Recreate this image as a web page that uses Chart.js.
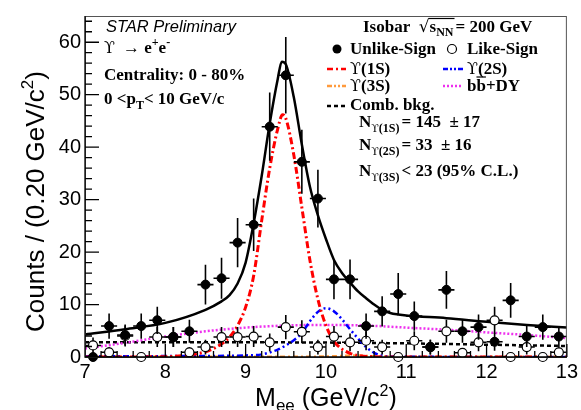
<!DOCTYPE html>
<html>
<head>
<meta charset="utf-8">
<script src="https://cdn.jsdelivr.net/npm/chart.js@4.4.1/dist/chart.umd.min.js"></script>
<style>
  body { margin: 0; background: #fff; }
  #wrap { width: 581px; height: 410px; }
</style>
</head>
<body>
<div id="wrap"><canvas id="myChart"></canvas></div>
<script>
// bin centres (0.2 GeV bins) and counts
let mass = [7.1, 7.3, 7.5, 7.7, 7.9, 8.1, 8.3, 8.5, 8.7, 8.9, 9.1, 9.3, 9.5, 9.7, 9.9,
            10.1, 10.3, 10.5, 10.7, 10.9, 11.1, 11.3, 11.5, 11.7, 11.9, 12.1, 12.3, 12.5, 12.7, 12.9];
let unlike = [0, 5.9, 4.2, 5.9, 7.0, 3.8, 4.9, 13.8, 15.0, 21.8, 25.2, 43.9, 53.7, 37.2, 30.2,
              14.8, 14.8, 5.9, 8.7, 12.0, 7.8, 1.9, 12.8, 4.9, 5.7, 2.9, 10.8, 3.9, 5.7, 3.9];
let unlikeErr = [0, 2.4, 2.0, 2.4, 2.6, 1.9, 2.2, 3.8, 3.9, 4.7, 5.0, 6.5, 7.3, 6.1, 5.5,
                 3.8, 3.8, 2.4, 2.9, 4.0, 2.8, 1.4, 3.6, 2.2, 2.4, 1.7, 3.3, 2.0, 2.4, 2.0];
let like = [2.2, 0.9, 4.0, 0, 3.8, 3.8, 0.9, 1.9, 3.8, 3.8, 3.9, 2.8, 5.7, 4.8, 1.9,
            3.9, 2.8, 3.1, 1.9, 0, 3.1, 1.9, 4.9, 0.8, 2.8, 7.0, 0, 1.9, 0, 0.9];
let likeErr = [1.5, 1.0, 2.0, 0, 1.9, 1.9, 1.0, 1.4, 1.9, 1.9, 2.0, 1.7, 2.3, 2.2, 1.4,
               2.0, 1.7, 1.8, 1.4, 0, 1.8, 1.4, 2.2, 0.9, 1.7, 2.6, 0, 1.4, 0, 1.0];
let binHalf = 0.1;

// fit curves
let fitM = [7.0, 7.5, 8.0, 8.5, 8.7, 8.8, 8.9, 9.0, 9.1, 9.2, 9.3, 9.4, 9.45, 9.5, 9.6, 9.7, 9.8, 9.9,
            10.0, 10.1, 10.2, 10.3, 10.4, 10.5, 10.6, 10.7, 10.8, 10.9, 11.0, 11.5, 12.0, 12.5, 13.0];
let fitY = [4.3, 5.3, 6.5, 9.0, 10.6, 11.8, 14.0, 18.0, 25.5, 34.5, 44.5, 53.0, 56.3, 55.8, 49.5, 40.5, 32.5, 27.0,
            22.5, 18.5, 16.0, 14.2, 12.5, 11.2, 10.0, 9.0, 8.4, 8.1, 7.9, 7.4, 6.7, 6.1, 5.6];
let y1sM = [7.0, 8.0, 8.3, 8.5, 8.6, 8.7, 8.8, 8.9, 9.0, 9.1, 9.2, 9.3, 9.4, 9.46, 9.5, 9.6, 9.7, 9.8, 9.9,
            10.0, 10.1, 10.2, 10.3, 10.4, 10.6, 11.0, 13.0];
let y1sY = [0, 0.05, 0.4, 1.0, 1.6, 2.5, 3.8, 6.0, 9.5, 15.5, 26.0, 36.0, 43.5, 46.2, 45.5, 38.5, 28.5, 18.5, 11.0,
            6.0, 3.0, 1.5, 0.7, 0.3, 0.05, 0, 0];
let y2sM = [7.0, 8.5, 9.0, 9.2, 9.4, 9.5, 9.6, 9.7, 9.8, 9.9, 10.0, 10.1, 10.2, 10.3, 10.4, 10.5, 10.6, 10.7, 10.9, 13.0];
let y2sY = [0.15, 0.2, 0.3, 0.5, 1.4, 2.2, 3.2, 4.6, 6.8, 8.6, 9.3, 8.7, 7.2, 5.3, 3.5, 1.9, 0.8, 0.25, 0.05, 0];
let y3sM = [7.0, 9.5, 10.0, 10.2, 10.35, 10.5, 10.7, 11.0, 13.0];
let y3sY = [0.05, 0.05, 0.1, 0.2, 0.3, 0.2, 0.1, 0.05, 0.05];
let bbM = [7.0, 7.5, 8.0, 8.5, 9.0, 9.5, 10.0, 10.5, 11.0, 11.5, 12.0, 12.5, 13.0];
let bbY = [1.6, 2.7, 3.9, 4.9, 5.6, 6.0, 6.1, 6.0, 5.6, 5.2, 4.7, 4.2, 3.6];
let combM = [7.0, 8.0, 9.0, 10.0, 11.0, 12.0, 13.0];
let combY = [2.8, 2.8, 2.8, 2.75, 2.6, 2.35, 2.1];

function pts(xs, ys) { return xs.map((x, i) => ({ x: x, y: ys[i] })) }

const SANS = '"Liberation Sans", Arial, sans-serif';
const B = 'bold 17px "Liberation Serif", "DejaVu Serif", serif';
const Bs = 'bold 12px "Liberation Serif", "DejaVu Serif", serif';
const U = '16px "DejaVu Serif", serif';      // upsilon glyph
const Us = '11px "DejaVu Serif", serif';

const RED = '#ff0000', BLUE = '#0000ff', ORANGE = '#ff9a3c', MAG = '#ee30ee';

function curve(label, xs, ys, color, dash, width, order) {
    return {
        label: label, data: pts(xs, ys), showLine: true, pointRadius: 0,
        borderColor: color, borderWidth: width, borderDash: dash,
        cubicInterpolationMode: 'monotone', order: order
    };
}

// draw text pieces one after the other (for sub/superscripts)
function run(ctx, x, y, parts) {
    parts.forEach(p => {
        ctx.font = p.f;
        ctx.fillText(p.t, x, y + (p.dy || 0));
        x += ctx.measureText(p.t).width + (p.gap || 0);
    });
    return x;
}

function sample(ctx, x0, x1, y, color, dash, w) {
    ctx.save();
    ctx.strokeStyle = color; ctx.lineWidth = w; ctx.setLineDash(dash);
    ctx.beginPath(); ctx.moveTo(x0, y); ctx.lineTo(x1, y); ctx.stroke();
    ctx.restore();
}

const ink = {
    id: 'ink',
    beforeDatasetDraw(chart, args) {
        const ds = chart.data.datasets[args.index];
        if (!ds.errs) return;
        const ctx = chart.ctx, xs = chart.scales.x, ys = chart.scales.y;
        ctx.save();
        ctx.strokeStyle = '#000'; ctx.lineWidth = 1.6;
        ds.data.forEach((p, i) => {
            const e = ds.errs[i];
            const px = xs.getPixelForValue(p.x), py = ys.getPixelForValue(p.y);
            ctx.beginPath();
            ctx.moveTo(xs.getPixelForValue(p.x - binHalf), py);
            ctx.lineTo(xs.getPixelForValue(p.x + binHalf), py);
            if (e > 0) {
                ctx.moveTo(px, ys.getPixelForValue(p.y - e));
                ctx.lineTo(px, ys.getPixelForValue(p.y + e));
            }
            ctx.stroke();
        });
        ctx.restore();
    },
    afterDraw(chart) {
        const ctx = chart.ctx, a = chart.chartArea, xs = chart.scales.x, ys = chart.scales.y;
        ctx.save();
        // frame
        ctx.strokeStyle = '#555'; ctx.lineWidth = 1;
        ctx.strokeRect(a.left + 0.5, a.top + 0.5, a.right - a.left - 1, a.bottom - a.top);
        ctx.strokeStyle = '#000'; ctx.lineWidth = 1.3;
        ctx.beginPath();
        ctx.moveTo(a.left, a.top); ctx.lineTo(a.left, a.bottom); ctx.lineTo(a.right, a.bottom);
        // inward ticks
        for (let k = 0; k <= 30; k++) {
            const px = xs.getPixelForValue(7 + k * 0.2);
            ctx.moveTo(px, a.bottom); ctx.lineTo(px, a.bottom - (k % 5 === 0 ? 13 : 6));
        }
        for (let k = 0; k <= 32; k++) {
            const py = ys.getPixelForValue(k * 2);
            ctx.moveTo(a.left, py); ctx.lineTo(a.left + (k % 5 === 0 ? 14 : 7), py);
        }
        ctx.stroke();

        ctx.fillStyle = '#000';
        ctx.textBaseline = 'alphabetic';
        // x title
        const xt = [
            { t: 'M', f: '25px ' + SANS },
            { t: 'ee', f: '17px ' + SANS, dy: 5 },
            { t: ' (GeV/c', f: '25px ' + SANS },
            { t: '2', f: '16px ' + SANS, dy: -10 },
            { t: ')', f: '25px ' + SANS }
        ];
        let w = 0;
        xt.forEach(p => { ctx.font = p.f; w += ctx.measureText(p.t).width });
        run(ctx, (a.left + a.right) / 2 - w / 2, 406, xt);
        // y title
        const yt = [
            { t: 'Counts / (0.20 GeV/c', f: '26px ' + SANS },
            { t: '2', f: '17px ' + SANS, dy: -11 },
            { t: ')', f: '26px ' + SANS }
        ];
        w = 0;
        yt.forEach(p => { ctx.font = p.f; w += ctx.measureText(p.t).width });
        ctx.save();
        ctx.translate(44, (a.top + a.bottom) / 2 + 15);
        ctx.rotate(-Math.PI / 2);
        run(ctx, -w / 2, 0, yt);
        ctx.restore();

        // left text block
        ctx.font = 'italic 16.5px ' + SANS;
        ctx.fillText('STAR Preliminary', 106, 32);
        run(ctx, 104, 53, [
            { t: 'ϒ', f: U, gap: 8 },
            { t: '→ e', f: B },
            { t: '+', f: Bs, dy: -7 },
            { t: 'e', f: B },
            { t: '-', f: Bs, dy: -7 }
        ]);
        ctx.font = B;
        ctx.fillText('Centrality: 0 - 80%', 104, 80);
        run(ctx, 104, 104, [
            { t: '0 <p', f: B },
            { t: 'T', f: Bs, dy: 5 },
            { t: '< 10 GeV/c', f: B }
        ]);

        // right block / legend
        let x = run(ctx, 363, 32, [{ t: 'Isobar  ', f: B }]);
        ctx.font = '17px "DejaVu Serif", serif';
        ctx.fillText('√', x, 32);
        x += ctx.measureText('√').width;
        const x0 = x;
        x = run(ctx, x, 32, [{ t: 's', f: B }, { t: 'NN', f: Bs, dy: 4 }]);
        ctx.lineWidth = 1.2;
        ctx.beginPath(); ctx.moveTo(x0 - 1, 18.5); ctx.lineTo(x + 1, 18.5); ctx.stroke();
        run(ctx, x + 2, 32, [{ t: '= 200 GeV', f: B }]);

        ctx.beginPath(); ctx.arc(337, 49, 4.5, 0, Math.PI * 2); ctx.fill();
        ctx.font = B;
        ctx.fillText('Unlike-Sign', 350, 54);
        ctx.beginPath(); ctx.arc(452, 49, 4.5, 0, Math.PI * 2);
        ctx.lineWidth = 1.2; ctx.stroke();
        ctx.fillText('Like-Sign', 467, 54);

        sample(ctx, 327, 346, 69, RED, [6, 3, 2, 3], 2.5);
        run(ctx, 350, 74, [{ t: 'ϒ', f: U }, { t: '(1S)', f: B }]);
        sample(ctx, 443, 463, 69, BLUE, [5, 2, 2, 2, 2, 2], 2.5);
        run(ctx, 467, 74, [{ t: 'ϒ', f: U }, { t: '(2S)', f: B }]);
        sample(ctx, 327, 346, 86, ORANGE, [5, 2, 2, 2, 2, 2], 2.5);
        run(ctx, 350, 91, [{ t: 'ϒ', f: U }, { t: '(3S)', f: B }]);
        sample(ctx, 443, 463, 86, MAG, [2, 2], 2.5);
        ctx.font = B;
        ctx.fillText('bb+DY', 467, 91);
        const bw = ctx.measureText('b').width;
        ctx.lineWidth = 1.2;
        ctx.beginPath(); ctx.moveTo(467 + bw, 77); ctx.lineTo(467 + 2 * bw, 77); ctx.stroke();
        sample(ctx, 327, 346, 106, '#000', [4, 3], 2.5);
        ctx.font = B;
        ctx.fillText('Comb. bkg.', 350, 110);

        const nsub = s => [{ t: 'N', f: B }, { t: 'ϒ', f: Us, dy: 5 }, { t: s, f: Bs, dy: 5, gap: 2 }];
        run(ctx, 359, 127, nsub('(1S)').concat([{ t: '= 145  ± 17', f: B }]));
        run(ctx, 359, 150, nsub('(2S)').concat([{ t: '= 33  ± 16', f: B }]));
        run(ctx, 359, 176, nsub('(3S)').concat([{ t: '< 23 (95% C.L.)', f: B }]));
        ctx.restore();
    }
};

const ctx = document.getElementById('myChart').getContext('2d');
const myChart = new Chart(ctx, {
    type: 'scatter',
    data: {
        datasets: [
            {
                label: 'Unlike-Sign', data: pts(mass, unlike), errs: unlikeErr,
                pointRadius: 4.5, pointBackgroundColor: '#000', pointBorderColor: '#000',
                pointBorderWidth: 1, clip: false, order: 0
            },
            {
                label: 'Like-Sign', data: pts(mass, like), errs: likeErr,
                pointRadius: 4.5, pointBackgroundColor: '#fff', pointBorderColor: '#000',
                pointBorderWidth: 1.2, clip: false, order: 1
            },
            curve('Fit', fitM, fitY, '#000', [], 2.5, 2),
            curve('Y(1S)', y1sM, y1sY, RED, [7, 3, 2, 3], 3, 3),
            curve('Y(2S)', y2sM, y2sY, BLUE, [6, 3, 2, 3, 2, 3], 2.5, 4),
            curve('Y(3S)', y3sM, y3sY, ORANGE, [5, 3, 2, 3], 2.5, 5),
            curve('bb+DY', bbM, bbY, MAG, [2, 2], 2.5, 6),
            curve('Comb. bkg.', combM, combY, '#000', [4, 3], 2.5, 7)
        ]
    },
    options: {
        responsive: true,
        maintainAspectRatio: false,
        animation: false,
        layout: { padding: { top: 10, right: 11, left: 0, bottom: 0 } },
        plugins: { legend: { display: false }, tooltip: { enabled: false } },
        scales: {
            x: {
                type: 'linear', min: 7, max: 13,
                grid: { display: false, drawTicks: false, tickLength: 0 }, border: { display: false },
                ticks: { stepSize: 1, maxRotation: 0, padding: 3, color: '#000', font: { family: SANS, size: 20 } },
                afterFit: s => { s.height = 53 }
            },
            y: {
                type: 'linear', min: 0, max: 65,
                grid: { display: false, drawTicks: false, tickLength: 0 }, border: { display: false },
                ticks: { stepSize: 10, padding: 4, color: '#000', font: { family: SANS, size: 20 } },
                afterBuildTicks: s => { s.ticks = s.ticks.filter(t => t.value % 10 === 0) },
                afterFit: s => { s.width = 85 }
            }
        }
    },
    plugins: [ink]
});
</script>
</body>
</html>
